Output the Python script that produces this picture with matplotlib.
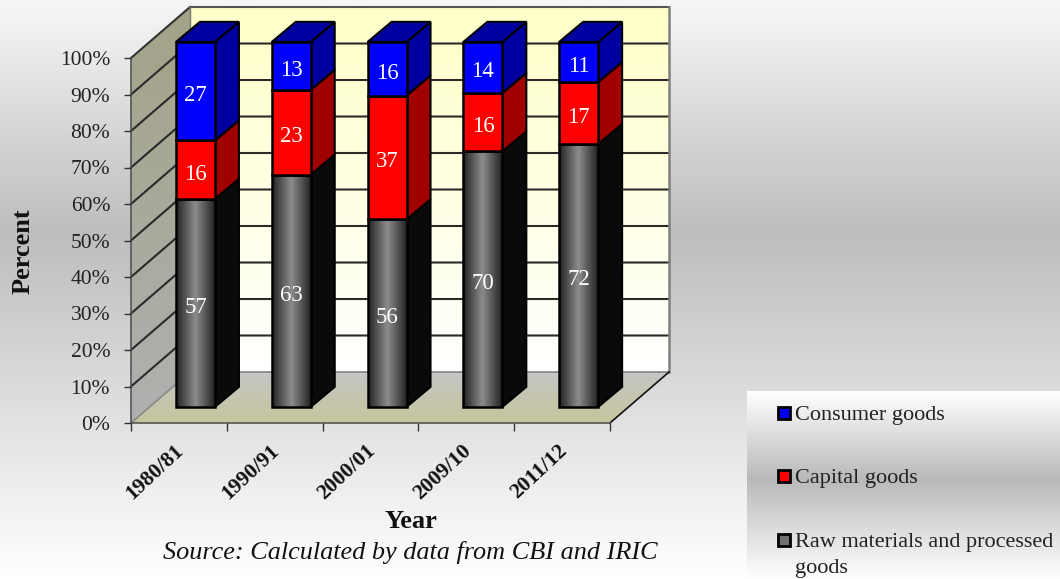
import numpy as np
import matplotlib
matplotlib.use('Agg')
import matplotlib.pyplot as plt
from matplotlib.colors import LinearSegmentedColormap
from matplotlib.patches import Polygon, Rectangle

plt.rcParams['font.family'] = ['Liberation Serif', 'DejaVu Serif']

# Values as printed on the bars
years = ['1980/81', '1990/91', '2000/01', '2009/10', '2011/12']
raw_materials = [57, 63, 56, 70, 72]
capital_goods = [16, 23, 37, 16, 17]
consumer_goods = [27, 13, 16, 14, 11]
y_ticks = [0, 10, 20, 30, 40, 50, 60, 70, 80, 90, 100]

# Fake 3D depth of the plot box, in axis units
DX, DY = 0.616, 13.97
BAR_CENTRE, BAR_Y0 = 0.673, 4.4
BAR_W = 0.407
BAR_DX, BAR_DY = 0.25, 5.5


def cmap(*cols):
    return LinearSegmentedColormap.from_list('g', list(cols))


def gradient(axis, extent, colors, poly=None, vertical=True, z=1):
    grad = np.linspace(0, 1, 256)
    grad = grad.reshape(-1, 1) if vertical else grad.reshape(1, -1)
    im = axis.imshow(grad, extent=extent, origin='upper', aspect='auto',
                     cmap=cmap(*colors), vmin=0, vmax=1, zorder=z)
    im.set_clip_box(fig.bbox)
    if poly is not None:
        patch = Polygon(poly, closed=True, transform=axis.transData)
        im.set_clip_path(patch)
    return im


fig = plt.figure(figsize=(10.6, 5.79), dpi=100)

# Page background, overlay axes in pixels
bg = fig.add_axes([0, 0, 1, 1])
bg.set_xlim(0, 1060)
bg.set_ylim(579, 0)
bg.axis('off')
gradient(bg, (0, 1060, 579, 0),
         [(0, '#f7f7f7'), (0.40, '#bdbdbd'), (0.75, '#e4e4e4'), (1, '#ffffff')])
gradient(bg, (747, 1060, 579, 391),
         [(0, '#ffffff'), (0.47, '#b9b9b9'), (1, '#ffffff')], z=2)
bg.set_xlim(0, 1060)
bg.set_ylim(579, 0)

ax = fig.add_axes([131 / 1060, 1 - 423 / 579, 479 / 1060, 365 / 579])
ax.patch.set_alpha(0)

# Walls and floor
top = 100 + DY
back_wall = [(DX, DY), (5 + DX, DY), (5 + DX, top), (DX, top)]
left_wall = [(0, 0), (DX, DY), (DX, top), (0, 100)]
floor = [(0, 0), (5, 0), (5 + DX, DY), (DX, DY)]
gradient(ax, (DX, 5 + DX, DY, top), ['#ffffc8', '#ffffff'], back_wall)
gradient(ax, (0, DX, 0, top), ['#a3a388', '#b0b0b0'], left_wall)
gradient(ax, (0, 5 + DX, 0, DY), ['#c5c5c5', '#c6c69c'], floor)

for t in y_ticks[1:-1]:
    ax.plot([0, DX, 5 + DX], [t, t + DY, t + DY], color='#2a2a2a', lw=1.5,
            zorder=2, clip_on=False)
ax.plot([0, DX], [100, top], color='#333333', lw=1.5, zorder=2, clip_on=False)
ax.plot([DX, 5 + DX], [top, top], color='#555555', lw=1.5, zorder=2, clip_on=False)
ax.plot([0, DX, 5 + DX], [0, DY, DY], color='#8a8a8a', lw=1.3, zorder=2, clip_on=False)
ax.plot([DX, DX], [DY, top], color='#777777', lw=1, zorder=2, clip_on=False)
ax.plot([5 + DX, 5 + DX], [DY, top], color='#808080', lw=1.8, zorder=2, clip_on=False)
ax.plot([5, 5 + DX], [0, DY], color='#111111', lw=1.2, zorder=2, clip_on=False)

# Bars
series = [
    (raw_materials, '#808080', '#0a0a0a'),
    (capital_goods, '#ff0000', '#a00000'),
    (consumer_goods, '#0000ff', '#0000a0'),
]
totals = np.sum([raw_materials, capital_goods, consumer_goods], axis=0)
bottoms = np.zeros(len(years))
for vals, face, side in series:
    shares = np.array(vals) / totals * 100
    for i, year in enumerate(years):
        x0 = i + BAR_CENTRE - BAR_W / 2
        x1 = x0 + BAR_W
        y0 = bottoms[i] + BAR_Y0
        y1 = y0 + shares[i]
        ax.add_patch(Polygon([(x1, y0), (x1 + BAR_DX, y0 + BAR_DY),
                              (x1 + BAR_DX, y1 + BAR_DY), (x1, y1)], closed=True,
                             facecolor=side, edgecolor='black', lw=1.5, zorder=3,
                             clip_on=False))
        if face == '#808080':
            ax.bar(x0, shares[i], BAR_W, bottom=y0, align='edge', facecolor='none',
                   edgecolor='black', lw=1.8, zorder=5, clip_on=False)
            gradient(ax, (x0, x1, y0, y1),
                     [(0, '#222222'), (0.5, '#8c8c8c'), (1, '#222222')],
                     vertical=False, z=4)
        else:
            ax.bar(x0, shares[i], BAR_W, bottom=y0, align='edge', facecolor=face,
                   edgecolor='black', lw=1.8, zorder=5, clip_on=False)
        ax.text((x0 + x1) / 2, (y0 + y1) / 2 - 1.2, str(vals[i]), color='white',
                fontsize=16.5, ha='center', va='center', zorder=6)
    bottoms += shares

# Top faces of the stacks
for i in range(len(years)):
    x0 = i + BAR_CENTRE - BAR_W / 2
    x1 = x0 + BAR_W
    y1 = bottoms[i] + BAR_Y0
    ax.add_patch(Polygon([(x0, y1), (x1, y1), (x1 + BAR_DX, y1 + BAR_DY),
                          (x0 + BAR_DX, y1 + BAR_DY)], closed=True, facecolor='#0000a0',
                         edgecolor='black', lw=1.5, zorder=4, clip_on=False))

# Axes
ax.set_xlim(0, 5)
ax.set_ylim(0, 100)
ax.set_xticks(range(6))
ax.set_xticklabels([])
ax.set_xticks(np.arange(5) + 0.45, years, minor=True)
ax.tick_params(axis='x', which='major', length=6, width=1, color='#333333')
ax.tick_params(axis='x', which='minor', length=0, pad=13)
for lab in ax.get_xticklabels(minor=True):
    lab.set(rotation=43, ha='right', va='top', rotation_mode='anchor',
            fontweight='bold', fontsize=15.5, color='#111111')
ax.set_yticks(y_ticks)
ax.set_yticklabels([f'{t}%' for t in y_ticks], fontsize=15.5, color='#222222')
ax.tick_params(axis='y', length=5, width=1, color='#333333', pad=10)
for name in ['top', 'right']:
    ax.spines[name].set_visible(False)
ax.spines['left'].set(color='#555555', lw=1.2)
ax.spines['bottom'].set(color='#555555', lw=1.2)
ax.set_axisbelow(False)

# Titles and legend, placed in page pixels
over = fig.add_axes([0, 0, 1, 1], zorder=5)
over.set_xlim(0, 1060)
over.set_ylim(579, 0)
over.axis('off')
over.text(23, 251, 'Percent', rotation=90, fontsize=19, fontweight='bold', ha='center',
          va='center', color='#111111')
over.text(411, 521, 'Year', fontsize=19, fontweight='bold', ha='center', va='center',
          color='#111111')
over.text(410.5, 552, 'Source: Calculated by data from CBI and IRIC', fontsize=18.9,
          style='italic', ha='center', va='center', color='#111111')

legend_names = ['Consumer goods', 'Capital goods', 'Raw materials and processed\ngoods']
legend_cols = ['#0000ff', '#ff0000', '#707070']
legend_ys = [413, 476, 540]
for name, col, y in zip(legend_names, legend_cols, legend_ys):
    over.add_patch(Rectangle((778, y - 6), 12, 12, facecolor=col, edgecolor='black', lw=2))
    over.text(795, y - 7, name, fontsize=16, ha='left', va='top', color='#222222',
              linespacing=1.5)

fig.savefig('out.png', dpi=100)
